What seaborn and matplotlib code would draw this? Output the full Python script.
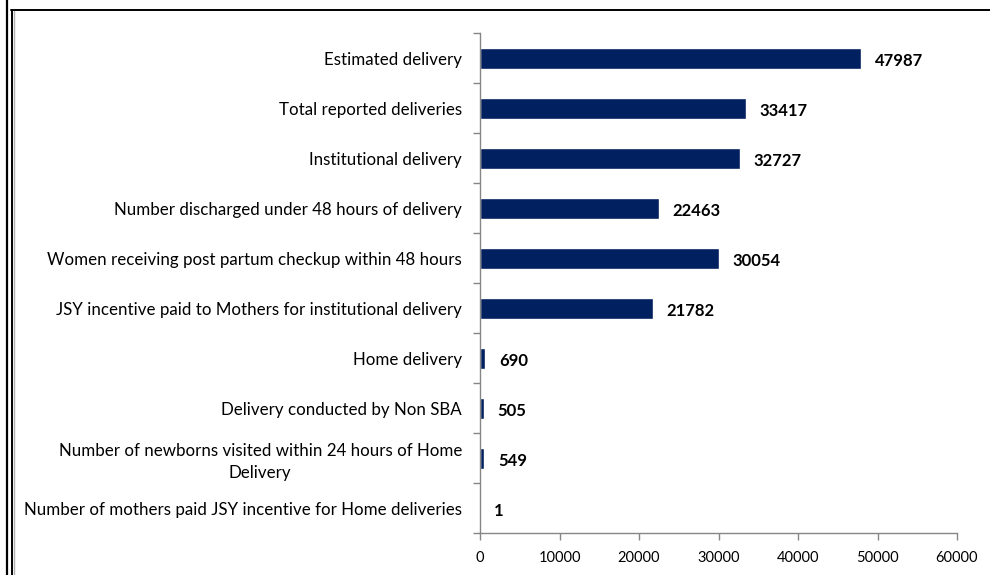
import matplotlib
matplotlib.use("Agg")
import matplotlib.pyplot as plt
import seaborn as sns
import pandas as pd
import numpy as np
from matplotlib.lines import Line2D
from matplotlib.ticker import FixedLocator

categories = [
    "Estimated delivery",
    "Total reported deliveries",
    "Institutional delivery",
    "Number discharged under 48 hours of delivery",
    "Women receiving post partum checkup within 48 hours",
    "JSY incentive paid to Mothers for institutional delivery",
    "Home delivery",
    "Delivery conducted by Non SBA",
    "Number of newborns visited within 24 hours of Home\nDelivery",
    "Number of mothers paid JSY incentive for Home deliveries",
]
values = [47987, 33417, 32727, 22463, 30054, 21782, 690, 505, 549, 1]
x_ticks = [0, 10000, 20000, 30000, 40000, 50000, 60000]

sns.set_theme(style="white")
plt.rcParams["font.family"] = ["Lato", "DejaVu Sans"]

df = pd.DataFrame({"category": categories, "value": values})

fig = plt.figure(figsize=(9.9, 5.75), dpi=100)
ax = fig.add_axes([480 / 990, 1 - 533 / 575, 477 / 990, 500 / 575])

sns.barplot(data=df, x="value", y="category", orient="h", color="#002060",
            saturation=1, width=0.42, ax=ax)

ax.set_xlim(0, 60000)
ax.set_ylim(len(categories) - 0.5, -0.5)
ax.set_xticks(x_ticks)
ax.set_xticklabels([str(t) for t in x_ticks], fontsize=10.5, color="#000000")
ax.set_xlabel("")
ax.set_ylabel("")

ax.set_yticks(range(len(categories)))
ax.set_yticklabels(categories, fontsize=12.2, color="#000000",
                   multialignment="center", linespacing=1.45)
ax.yaxis.set_minor_locator(FixedLocator(np.arange(-0.5, len(categories), 1.0)))
ax.tick_params(axis="y", which="major", length=0, pad=13)
ax.tick_params(axis="y", which="minor", length=5, color="#868686", width=1, direction="out", left=True)
ax.tick_params(axis="x", which="major", length=5, color="#868686", width=1, direction="out", bottom=True, pad=8)

for side in ("top", "right"):
    ax.spines[side].set_visible(False)
for side in ("left", "bottom"):
    ax.spines[side].set_color("#868686")
    ax.spines[side].set_linewidth(1)

for i, v in enumerate(values):
    ax.text(v + 1700, i + 0.05, str(v), va="center", ha="left",
            fontsize=12, fontweight="bold", color="#000000")

# page frame
fig.add_artist(Line2D([7 / 990, 7 / 990], [0, 1], color="#000000", lw=1.6, transform=fig.transFigure))
fig.add_artist(Line2D([11.5 / 990, 11.5 / 990], [0, 1 - 9.5 / 575], color="#000000", lw=1.4, transform=fig.transFigure))
fig.add_artist(Line2D([11 / 990, 1], [1 - 9.5 / 575, 1 - 9.5 / 575], color="#000000", lw=1.4, transform=fig.transFigure))
fig.add_artist(Line2D([13.5 / 990, 13.5 / 990], [0, 1 - 11 / 575], color="#b0b0b0", lw=1.0, transform=fig.transFigure))

fig.savefig("out.png", dpi=100)
